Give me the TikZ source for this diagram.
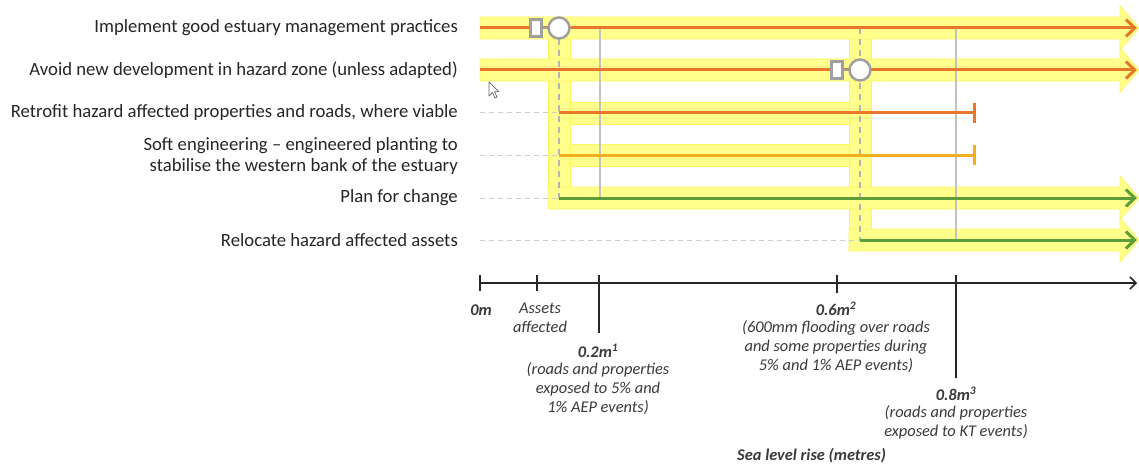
\documentclass[tikz,border=0pt]{standalone}
\usepackage{fontspec}
\setmainfont{Carlito}
\usetikzlibrary{arrows.meta}
\definecolor{orng}{HTML}{E8772E}
\definecolor{gold}{HTML}{F2B01E}
\definecolor{grn}{HTML}{5E9E3A}
\definecolor{hl}{HTML}{FFFF8C}
\definecolor{hledge}{HTML}{FBF560}
\definecolor{mk}{HTML}{A0A0A0}
\definecolor{vl}{HTML}{C2C2C2}
\definecolor{txt}{HTML}{262626}
\definecolor{axt}{HTML}{3A3A3A}
\tikzset{
  hlband/.style={fill=hl,draw=hledge,line width=0.8pt},
  pathline/.style={line width=3pt},
  arrowline/.style={pathline,-{Straight Barb[length=9pt,width=17pt,line width=3pt]}},
  barline/.style={pathline,-{Bar[width=20pt]}},
  guide/.style={draw=vl,line width=2pt},
  dguide/.style={draw=mk!80,line width=1.6pt,dash pattern=on 6pt off 5pt},
  lead/.style={draw=vl!80,line width=1pt,dash pattern=on 5pt off 4pt},
  trigbox/.style={draw=mk,line width=2.5pt,fill=white,minimum width=11pt,minimum height=17pt,inner sep=0pt},
  trigcirc/.style={draw=mk,line width=2.5pt,fill=white,circle,minimum size=21pt,inner sep=0pt},
  rowlabel/.style={anchor=east,align=right,text=txt,font=\fontsize{18.7}{20.5}\selectfont,inner sep=0pt},
  axlabel/.style={align=center,text=axt,font=\fontsize{16.4}{19.2}\selectfont\itshape,inner sep=0pt},
  axhead/.style={text=axt,font=\fontsize{16.4}{19.2}\selectfont\bfseries\itshape,inner sep=0pt},
  tick/.style={draw=black!85,line width=1.5pt},
}
\begin{document}
\begin{tikzpicture}[x=1pt,y=-1pt]
\useasboundingbox (0,0) rectangle (1139,468);

% highlight bands
\fill[white] (0,0) rectangle (1139,468);
\path[hlband] (548,38) rectangle (570,190);
\path[hlband] (849,38) rectangle (871,232);
\path[hlband] (570,102) rectangle (849,124);
\path[hlband] (570,144) rectangle (849,166);
\path[hlband] (480,17) -- (1120,17) -- (1120,6) -- (1139,28) -- (1120,50) -- (1120,39) -- (480,39) -- cycle;
\path[hlband] (480,59) -- (1120,59) -- (1120,48) -- (1139,70) -- (1120,92) -- (1120,81) -- (480,81) -- cycle;
\path[hlband] (548,187) -- (1120,187) -- (1120,176) -- (1139,198) -- (1120,220) -- (1120,209) -- (548,209) -- cycle;
\path[hlband] (849,229) -- (1120,229) -- (1120,218) -- (1139,240) -- (1120,262) -- (1120,251) -- (849,251) -- cycle;

% row labels
\node[rowlabel] (l1) at (458,28) {Implement good estuary management practices};
\node[rowlabel] (l2) at (458,70) {Avoid new development in hazard zone (unless adapted)};
\node[rowlabel] (l3) at (458,113) {Retrofit hazard affected properties and roads, where viable};
\node[rowlabel] (l4) at (458,156) {Soft engineering -- engineered planting to\\stabilise the western bank of the estuary};
\node[rowlabel] (l5) at (458,198) {Plan for change};
\node[rowlabel] (l6) at (458,240) {Relocate hazard affected assets};

% coordinates
\coordinate (s1) at (480,28);  \coordinate (e1) at (1137,28);
\coordinate (s2) at (480,70);  \coordinate (e2) at (1137,70);
\coordinate (g3) at (480,113); \coordinate (s3) at (559,113); \coordinate (e3) at (976,113);
\coordinate (g4) at (480,155); \coordinate (s4) at (559,155); \coordinate (e4) at (976,155);
\coordinate (g5) at (480,198); \coordinate (s5) at (559,198); \coordinate (e5) at (1137,198);
\coordinate (g6) at (480,240); \coordinate (s6) at (860,240); \coordinate (e6) at (1137,240);

% leader dashes
\draw[lead] (g3) -- (s3);
\draw[lead] (g4) -- (s4);
\draw[lead] (g5) -- (s5);
\draw[lead] (g6) -- (s6);

% guides
\coordinate (v1t) at (600,28); \coordinate (v1b) at (600,198);
\coordinate (v2t) at (956,28); \coordinate (v2b) at (956,240);
\draw[guide] (v1t) -- (v1b);
\draw[guide] (v2t) -- (v2b);
\coordinate (d1t) at (559,28); \coordinate (d1b) at (559,198);
\coordinate (d2t) at (860,28); \coordinate (d2b) at (860,240);
\draw[dguide] (d1t) -- (d1b);
\draw[dguide] (d2t) -- (d2b);

% pathway lines
\draw[arrowline,orng] (s1) -- (e1);
\draw[arrowline,orng] (s2) -- (e2);
\draw[barline,orng] (s3) -- (e3);
\draw[barline,gold] (s4) -- (e4);
\draw[arrowline,grn] (s5) -- (e5);
\draw[arrowline,grn] (s6) -- (e6);

% transfer markers
\node[trigbox] (b1) at (536,28) {};
\node[trigcirc] (c1) at (559,28) {};
\draw[mk,line width=2pt] (b1) -- (c1);
\node[trigbox] (b2) at (837,70) {};
\node[trigcirc] (c2) at (860,70) {};
\draw[mk,line width=2pt] (b2) -- (c2);

% cursor
\draw[draw=black!60,fill=white,line width=0.7pt,line join=round]
  (489,82) -- (489,96) -- (492.5,92.5) -- (495,98) -- (497,97) -- (494.5,91.8) -- (499,91.8) -- cycle;

% axis
\coordinate (a0) at (480,283); \coordinate (a1) at (1137,283);
\draw[tick,-{Straight Barb[length=6pt,width=12pt]}] (a0) -- (a1);
\draw[tick] (480,275) -- (480,291);
\draw[tick] (537,275) -- (537,291);
\draw[tick] (599,275) -- (599,333);
\draw[tick] (837,275) -- (837,293);
\draw[tick] (956,275) -- (956,378);

% axis labels
\node[axhead] (t0) at (481,310) {0m};
\node[axlabel] (t1) at (540,318) {Assets\\affected};
\node[axhead] (t2h) at (598,351) {0.2m\textsuperscript{1}};
\node[axlabel,anchor=north] (t2) at (598,362) {(roads and properties\\exposed to 5\% and\\1\% AEP events)};
\node[axhead] (t3h) at (836,309) {0.6m\textsuperscript{2}};
\node[axlabel,anchor=north] (t3) at (836,320) {(600mm flooding over roads\\and some properties during\\5\% and 1\% AEP events)};
\node[axhead] (t4h) at (956,394) {0.8m\textsuperscript{3}};
\node[axlabel,anchor=north] (t4) at (956,405) {(roads and properties\\exposed to KT events)};
\node[axhead,anchor=west] (t5) at (737,456) {Sea level rise (metres)};
\end{tikzpicture}
\end{document}
